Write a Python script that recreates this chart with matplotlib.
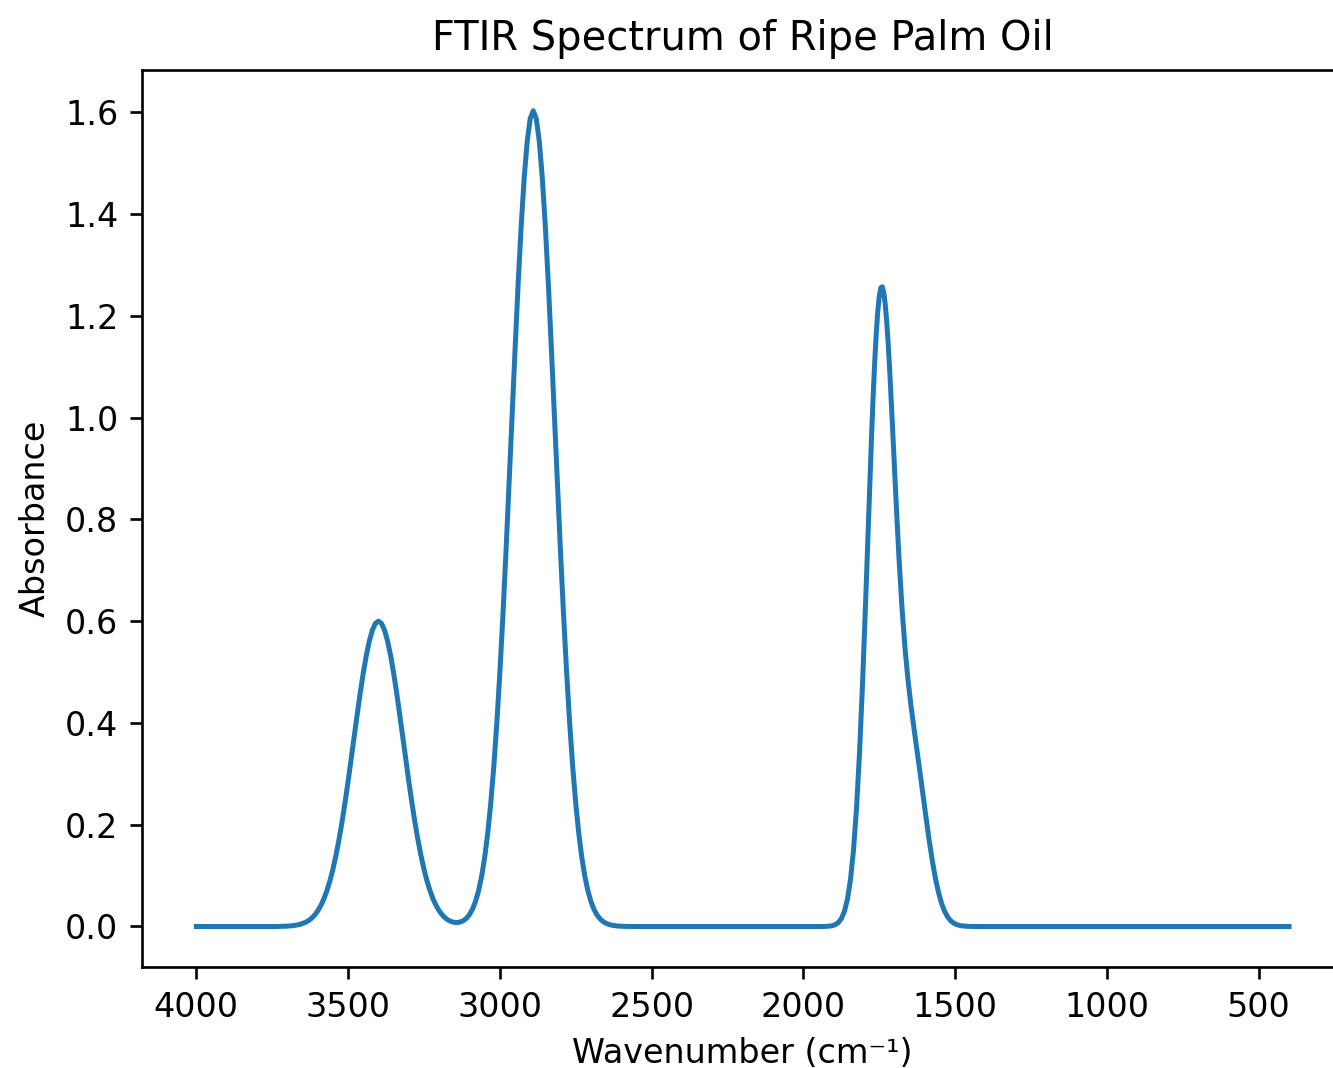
import matplotlib
matplotlib.use("Agg")
import matplotlib.pyplot as plt

# absorbance (wavenumber in cm^-1)
wavenumber = [
    4000, 3800, 3740, 3720, 3700, 3680, 3660, 3640, 3630, 3620,
    3610, 3600, 3590, 3580, 3570, 3560, 3550, 3540, 3530, 3520,
    3510, 3500, 3490, 3480, 3470, 3460, 3450, 3440, 3430, 3420,
    3410, 3400, 3390, 3380, 3370, 3360, 3350, 3340, 3330, 3320,
    3310, 3300, 3290, 3280, 3270, 3260, 3250, 3240, 3230, 3220,
    3210, 3200, 3190, 3180, 3170, 3160, 3150, 3140, 3130, 3120,
    3110, 3100, 3090, 3080, 3070, 3060, 3050, 3040, 3030, 3020,
    3010, 3000, 2990, 2980, 2970, 2960, 2950, 2940, 2930, 2920,
    2910, 2900, 2890, 2880, 2870, 2860, 2850, 2840, 2830, 2820,
    2810, 2800, 2790, 2780, 2770, 2760, 2750, 2740, 2730, 2720,
    2710, 2700, 2690, 2680, 2670, 2660, 2650, 2640, 2630, 2610,
    2590, 2560, 2200, 1960, 1935, 1925, 1915, 1905, 1895, 1885,
    1875, 1865, 1855, 1845, 1835, 1825, 1815, 1805, 1795, 1785,
    1775, 1770, 1765, 1760, 1755, 1750, 1745, 1740, 1735, 1730,
    1725, 1720, 1715, 1705, 1695, 1685, 1675, 1665, 1655, 1645,
    1635, 1625, 1615, 1605, 1595, 1585, 1575, 1565, 1555, 1545,
    1535, 1525, 1515, 1505, 1495, 1485, 1475, 1465, 1455, 1445,
    1420, 1000, 400,
]
absorbance = [
    0.0, 0.0, 0.0, 0.0003, 0.0007, 0.0018, 0.0039, 0.0083, 0.0117, 0.0164,
    0.0226, 0.0307, 0.0410, 0.0540, 0.0700, 0.0894, 0.1126, 0.1397, 0.1708, 0.2056,
    0.2440, 0.2852, 0.3285, 0.3728, 0.4168, 0.4591, 0.4983, 0.5327, 0.5612, 0.5824,
    0.5956, 0.6000, 0.5956, 0.5824, 0.5612, 0.5327, 0.4983, 0.4591, 0.4168, 0.3728,
    0.3285, 0.2852, 0.2440, 0.2056, 0.1708, 0.1397, 0.1126, 0.0894, 0.0700, 0.0540,
    0.0411, 0.0309, 0.0229, 0.0169, 0.0125, 0.0097, 0.0082, 0.0078, 0.0089, 0.0115,
    0.0163, 0.0235, 0.0343, 0.0496, 0.0706, 0.0987, 0.1358, 0.1830, 0.2420, 0.3140,
    0.3998, 0.4990, 0.6110, 0.7339, 0.8647, 0.9993, 1.1327, 1.2597, 1.3738, 1.4698,
    1.5424, 1.5876, 1.6030, 1.5876, 1.5424, 1.4698, 1.3738, 1.2597, 1.1327, 0.9993,
    0.8647, 0.7339, 0.6110, 0.4990, 0.3998, 0.3140, 0.2420, 0.1830, 0.1358, 0.0987,
    0.0704, 0.0493, 0.0338, 0.0228, 0.0151, 0.0097, 0.0062, 0.0039, 0.0024, 0.0008,
    0.0003, 0.0, 0.0, 0.0, 0.0, 0.0003, 0.0007, 0.0016, 0.0036, 0.0077,
    0.0154, 0.0293, 0.0531, 0.0915, 0.1494, 0.2320, 0.3422, 0.4791, 0.6377, 0.8065,
    0.9699, 1.0437, 1.1095, 1.1648, 1.2084, 1.2387, 1.2550, 1.2571, 1.2455, 1.2208,
    1.1849, 1.1392, 1.0859, 0.9653, 0.8401, 0.7240, 0.6251, 0.5454, 0.4825, 0.4314,
    0.3864, 0.3432, 0.2994, 0.2546, 0.2098, 0.1671, 0.1283, 0.0948, 0.0673, 0.0460,
    0.0302, 0.0191, 0.0116, 0.0067, 0.0038, 0.0020, 0.0011, 0.0005, 0.0002, 0.0001,
    0.0, 0.0, 0.0,
]

fig = plt.figure(figsize=(1333 / 240, 1068 / 240), dpi=240)
ax = fig.add_axes([0.1063, 0.0943, 0.9017, 0.8402])

ax.plot(wavenumber, absorbance, color="#1f77b4", linewidth=1.5)
ax.invert_xaxis()
ax.set_title("FTIR Spectrum of Ripe Palm Oil")
ax.set_xlabel("Wavenumber (cm⁻¹)")
ax.set_ylabel("Absorbance")

fig.savefig("out.png", dpi=240)
